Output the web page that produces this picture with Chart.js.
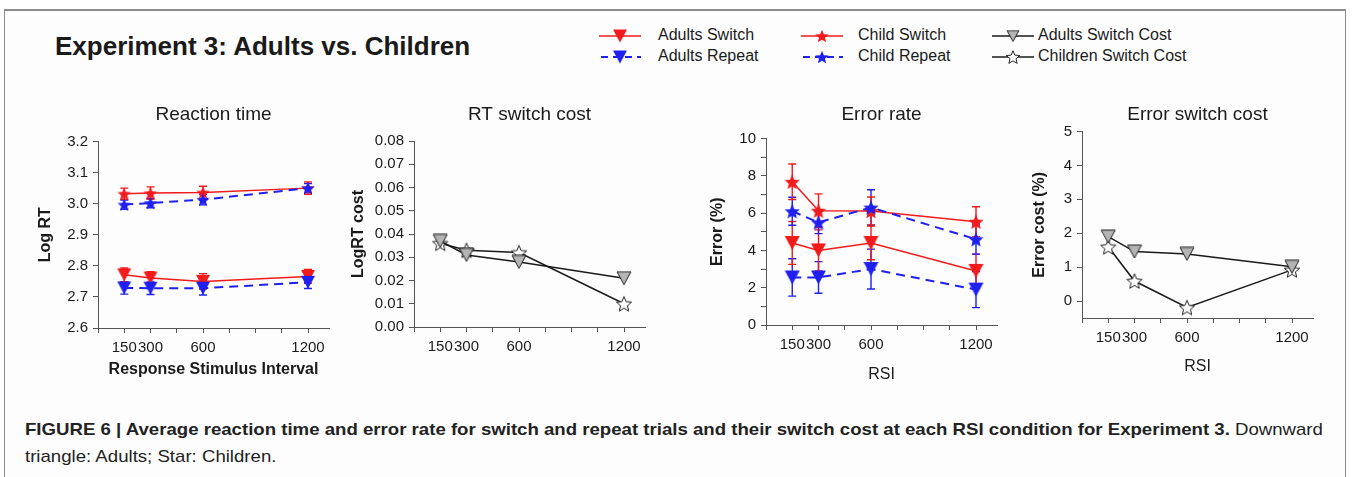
<!DOCTYPE html>
<html>
<head>
<meta charset="utf-8">
<script src="https://cdn.jsdelivr.net/npm/chart.js@4/dist/chart.umd.min.js"></script>
<style>
  body { margin: 0; background: #fff; font-family: 'Liberation Sans', Arial, sans-serif; color: #1a1a1a; }
  #frame { position: absolute; left: 4px; top: 9px; width: 1340px; height: 480px;
           border: 1px solid #8c8c8c; border-top: 2px solid #8c8c8c; border-bottom: none; background: #fdfdfd; }
  #title { position: absolute; left: 55px; top: 31px; font-size: 26px; font-weight: bold; white-space: nowrap; }
  .leg { position: absolute; font-size: 16px; white-space: nowrap; line-height: 18px; }
  .panel { position: absolute; }
  #cap { position: absolute; left: 25px; top: 416px; font-size: 17px; line-height: 27px; white-space: nowrap; color: #222;
         transform: scaleX(1.095); transform-origin: 0 0; }
</style>
</head>
<body>
<div id="frame"></div>
<div id="title">Experiment 3: Adults vs. Children</div>
<div id="legend"></div>
<div class="panel" id="p1"><canvas id="c1"></canvas></div>
<div class="panel" id="p2"><canvas id="c2"></canvas></div>
<div class="panel" id="p3"><canvas id="c3"></canvas></div>
<div class="panel" id="p4"><canvas id="c4"></canvas></div>
<div id="cap"><b>FIGURE 6 | Average reaction time and error rate for switch and repeat trials and their switch cost at each RSI condition for Experiment 3.</b> Downward<br>triangle: Adults; Star: Children.</div>
<script>
// response stimulus interval (ms)
const rsi = [150, 300, 600, 1200];
const xTickVals = [0, 150, 300, 450, 600, 750, 900, 1050, 1200];
const xLabelVals = [150, 300, 600, 1200];

// reaction time (log RT) with error bars
const rtAdultSwitch = [2.771, 2.761, 2.750, 2.766];
const rtAdultRepeat = [2.729, 2.728, 2.728, 2.747];
const rtChildSwitch = [3.032, 3.034, 3.036, 3.050];
const rtChildRepeat = [2.997, 3.002, 3.013, 3.050];
const rtAdultSwitchErr = [0.022, 0.02, 0.025, 0.022];
const rtAdultRepeatErr = [0.02, 0.02, 0.022, 0.02];
const rtChildSwitchErr = [0.018, 0.02, 0.02, 0.02];
const rtChildRepeatErr = [0.015, 0.015, 0.017, 0.015];

// RT switch cost
const rtCostAdult = [0.037, 0.031, 0.028, 0.021];
const rtCostChild = [0.036, 0.033, 0.032, 0.010];

// error rate (%)
const erAdultSwitch = [4.4, 4.0, 4.4, 2.9];
const erAdultRepeat = [2.55, 2.55, 3.0, 1.9];
const erChildSwitch = [7.68, 6.13, 6.11, 5.54];
const erChildRepeat = [6.1, 5.5, 6.3, 4.6];
const erAdultSwitchErr = [1.15, 1.1, 0.9, 0.9];
const erAdultRepeatErr = [1.0, 0.85, 1.07, 0.97];
const erChildSwitchErr = [0.95, 0.9, 0.75, 0.8];
const erChildRepeatErr = [0.75, 0.6, 0.95, 0.8];

// error switch cost (%)
const erCostAdult = [1.9, 1.46, 1.39, 1.01];
const erCostChild = [1.6, 0.59, -0.19, 0.92];

// y tick values
const rtTicks = [2.6, 2.7, 2.8, 2.9, 3.0, 3.1, 3.2];
const rtCostTicks = [0, 0.01, 0.02, 0.03, 0.04, 0.05, 0.06, 0.07, 0.08];
const erTicks = [0, 1, 2, 3, 4, 5, 6, 7, 8, 9, 10];
const erCostTicks = [0, 1, 2, 3, 4, 5];

const F = "'Liberation Sans', Arial, sans-serif";
const RED = '#f21a1a', BLUE = '#1f1ff0', GRAY = '#b4b4b4', INK = '#1a1a1a', AXIS = '#555';
Chart.defaults.font.family = F;
Chart.defaults.color = INK;

// marker images
function triMarker(w, fill, stroke) {
  const h = Math.round(w * 0.9);
  const c = document.createElement('canvas');
  c.width = w + 2; c.height = h + 2;
  const g = c.getContext('2d');
  g.beginPath(); g.moveTo(1, 1); g.lineTo(w + 1, 1); g.lineTo(w / 2 + 1, h + 1); g.closePath();
  g.fillStyle = fill; g.fill();
  if (stroke) { g.strokeStyle = stroke; g.lineWidth = 1; g.stroke(); }
  return c;
}
function starMarker(R, fill, stroke) {
  const c = document.createElement('canvas');
  c.width = c.height = 2 * R + 2;
  const g = c.getContext('2d');
  g.beginPath();
  for (let i = 0; i < 10; i++) {
    const r = i % 2 ? R * 0.45 : R;
    const a = -Math.PI / 2 + i * Math.PI / 5;
    const px = R + 1 + r * Math.cos(a), py = R + 1 + r * Math.sin(a) + R * 0.1;
    i ? g.lineTo(px, py) : g.moveTo(px, py);
  }
  g.closePath();
  g.fillStyle = fill; g.fill();
  if (stroke) { g.strokeStyle = stroke; g.lineWidth = 1; g.stroke(); }
  return c;
}

// error bars drawn from the dataset's own scales
const errorBars = {
  id: 'errorBars',
  beforeDatasetsDraw(chart) {
    const { ctx, scales: { x, y } } = chart;
    chart.data.datasets.forEach(ds => {
      if (!ds.errors) return;
      ctx.save();
      ctx.strokeStyle = ds.borderColor;
      ctx.lineWidth = 1.4;
      ds.data.forEach((p, j) => {
        const px = x.getPixelForValue(p.x);
        const y1 = y.getPixelForValue(p.y - ds.errors[j]);
        const y2 = y.getPixelForValue(p.y + ds.errors[j]);
        ctx.beginPath();
        ctx.moveTo(px, y1); ctx.lineTo(px, y2);
        ctx.moveTo(px - 4, y1); ctx.lineTo(px + 4, y1);
        ctx.moveTo(px - 4, y2); ctx.lineTo(px + 4, y2);
        ctx.stroke();
      });
      ctx.restore();
    });
  }
};

function series(vals, color, dashed, marker, errors) {
  return {
    data: vals.map((v, k) => ({ x: rsi[k], y: v })),
    borderColor: color,
    backgroundColor: color,
    borderWidth: dashed ? 2 : 1.5,
    borderDash: dashed ? [9, 6] : [],
    pointStyle: marker,
    pointRadius: 5,
    tension: 0,
    errors: errors
  };
}

function panel(n, o) {
  const top = 95;
  const w = 2 * o.yW + (o.r - o.l);
  const h = (o.b - top) + 60;
  const wrap = document.getElementById('p' + n);
  wrap.style.left = (o.l - o.yW) + 'px';
  wrap.style.top = top + 'px';
  const cv = document.getElementById('c' + n);
  cv.width = w; cv.height = h;
  const lhT = 19 * 1.2, lhA = 16 * 1.2;
  const padTop = 115 - top - lhT / 2;
  const padBottom = (o.t - top) - padTop - lhT;
  new Chart(cv, {
    type: 'line',
    data: { datasets: o.datasets },
    options: {
      responsive: false,
      animation: false,
      devicePixelRatio: 1,
      layout: { padding: 0 },
      plugins: {
        legend: { display: false },
        tooltip: { enabled: false },
        title: { display: true, text: o.title, font: { size: 19, weight: 'normal' }, color: INK,
                 padding: { top: padTop, bottom: padBottom } }
      },
      scales: {
        x: {
          type: 'linear', min: 0, max: 1320,
          afterBuildTicks: s => { s.ticks = xTickVals.map(v => ({ value: v })); },
          afterFit: s => { s.height = 60; },
          grid: { drawOnChartArea: false, drawTicks: true, tickLength: 5, color: AXIS },
          border: { color: AXIS },
          ticks: { autoSkip: false, maxRotation: 0, padding: 6, font: { size: 15 }, color: INK,
                   callback: v => xLabelVals.includes(v) ? String(v) : '' },
          title: { display: !!o.xTitle, text: o.xTitle, color: INK,
                   font: { size: 16, weight: o.xBold ? 'bold' : 'normal' },
                   padding: { top: 0, bottom: o.b + 60 - o.xTitleY - lhA / 2 } }
        },
        y: {
          min: o.yMin, max: o.yTicks[o.yTicks.length - 1],
          afterBuildTicks: s => { s.ticks = o.yTicks.map(v => ({ value: v })); },
          afterFit: s => { s.width = o.yW; },
          grid: { drawOnChartArea: false, drawTicks: true, tickLength: 5, color: AXIS },
          border: { color: AXIS },
          ticks: { autoSkip: false, padding: 5, font: { size: 15 }, color: INK, callback: o.yFmt },
          title: { display: true, text: o.yTitle, color: INK, font: { size: 16, weight: 'bold' },
                   padding: { top: o.yTitleX - (o.l - o.yW) - lhA / 2, bottom: 0 } }
        },
        // empty right axis, keeps the panel title centred over the plot
        spacer: {
          position: 'right', min: 0, max: 1,
          afterFit: s => { s.width = o.yW; },
          grid: { display: false }, border: { display: false }, ticks: { display: false }
        }
      }
    },
    plugins: [errorBars]
  });
}

const rs = 7, rt = 14, es = 8, et = 15, cs = 8, ct = 14;
const mk = {
  rtAS: triMarker(rt, RED), rtAR: triMarker(rt, BLUE), rtCS: starMarker(rs, RED), rtCR: starMarker(rs, BLUE),
  erAS: triMarker(et, RED), erAR: triMarker(et, BLUE), erCS: starMarker(es, RED), erCR: starMarker(es, BLUE),
  cA: triMarker(ct, GRAY, '#222'), cC: starMarker(cs, '#fff', '#222')
};

panel(1, {
  l: 98, r: 329, t: 141.5, b: 328, yW: 78, title: 'Reaction time',
  yTitle: 'Log RT', yTitleX: 46, xTitle: 'Response Stimulus Interval', xBold: true, xTitleY: 370,
  yMin: 2.6, yTicks: rtTicks, yFmt: v => v.toFixed(1),
  datasets: [
    series(rtAdultRepeat, BLUE, true, mk.rtAR, rtAdultRepeatErr),
    series(rtAdultSwitch, RED, false, mk.rtAS, rtAdultSwitchErr),
    series(rtChildRepeat, BLUE, true, mk.rtCR, rtChildRepeatErr),
    series(rtChildSwitch, RED, false, mk.rtCS, rtChildSwitchErr)
  ]
});

panel(2, {
  l: 413.5, r: 644.5, t: 141, b: 327.5, yW: 75, title: 'RT switch cost',
  yTitle: 'LogRT cost', yTitleX: 358, xTitle: '', xTitleY: 0,
  yMin: 0, yTicks: rtCostTicks, yFmt: v => v.toFixed(2),
  datasets: [
    series(rtCostAdult, INK, false, mk.cA),
    series(rtCostChild, INK, false, mk.cC)
  ]
});

panel(3, {
  l: 766, r: 997, t: 138.5, b: 325, yW: 70, title: 'Error rate',
  yTitle: 'Error (%)', yTitleX: 718, xTitle: 'RSI', xBold: false, xTitleY: 375,
  yMin: 0, yTicks: erTicks, yFmt: v => v % 2 === 0 ? String(v) : '',
  datasets: [
    series(erAdultRepeat, BLUE, true, mk.erAR, erAdultRepeatErr),
    series(erAdultSwitch, RED, false, mk.erAS, erAdultSwitchErr),
    series(erChildRepeat, BLUE, true, mk.erCR, erChildRepeatErr),
    series(erChildSwitch, RED, false, mk.erCS, erChildSwitchErr)
  ]
});

panel(4, {
  l: 1082, r: 1313, t: 131.5, b: 318, yW: 70, title: 'Error switch cost',
  yTitle: 'Error cost (%)', yTitleX: 1040, xTitle: 'RSI', xBold: false, xTitleY: 367,
  yMin: -0.5, yTicks: erCostTicks, yFmt: v => String(v),
  datasets: [
    series(erCostAdult, INK, false, mk.cA),
    series(erCostChild, INK, false, mk.cC)
  ]
});

// figure legend
const legendItems = [
  { text: 'Adults Switch', cx: 620, tx: 658, cy: 36, color: RED, dash: false, m: triMarker(14, RED) },
  { text: 'Adults Repeat', cx: 620, tx: 658, cy: 57, color: BLUE, dash: true, m: triMarker(14, BLUE) },
  { text: 'Child Switch', cx: 822, tx: 858, cy: 36, color: RED, dash: false, m: starMarker(7, RED) },
  { text: 'Child Repeat', cx: 822, tx: 858, cy: 57, color: BLUE, dash: true, m: starMarker(7, BLUE) },
  { text: 'Adults Switch Cost', cx: 1013, tx: 1038, cy: 36, color: INK, dash: false, m: triMarker(12, GRAY, '#222') },
  { text: 'Children Switch Cost', cx: 1013, tx: 1038, cy: 57, color: INK, dash: false, m: starMarker(7, '#fff', '#222') }
];
const legendEl = document.getElementById('legend');
legendItems.forEach(it => {
  const c = document.createElement('canvas');
  c.width = 42; c.height = 18;
  c.style.position = 'absolute';
  c.style.left = (it.cx - 21) + 'px';
  c.style.top = (it.cy - 9) + 'px';
  const g = c.getContext('2d');
  g.strokeStyle = it.color; g.lineWidth = it.dash ? 2 : 1.5;
  g.setLineDash(it.dash ? [7, 5] : []);
  g.beginPath(); g.moveTo(it.dash ? 2 : 0, 9); g.lineTo(42, 9); g.stroke();
  g.drawImage(it.m, 21 - it.m.width / 2, 9 - it.m.height / 2);
  legendEl.appendChild(c);
  const t = document.createElement('div');
  t.className = 'leg';
  t.style.left = it.tx + 'px';
  t.style.top = (it.cy - 10) + 'px';
  t.textContent = it.text;
  legendEl.appendChild(t);
});
</script>
</body>
</html>
